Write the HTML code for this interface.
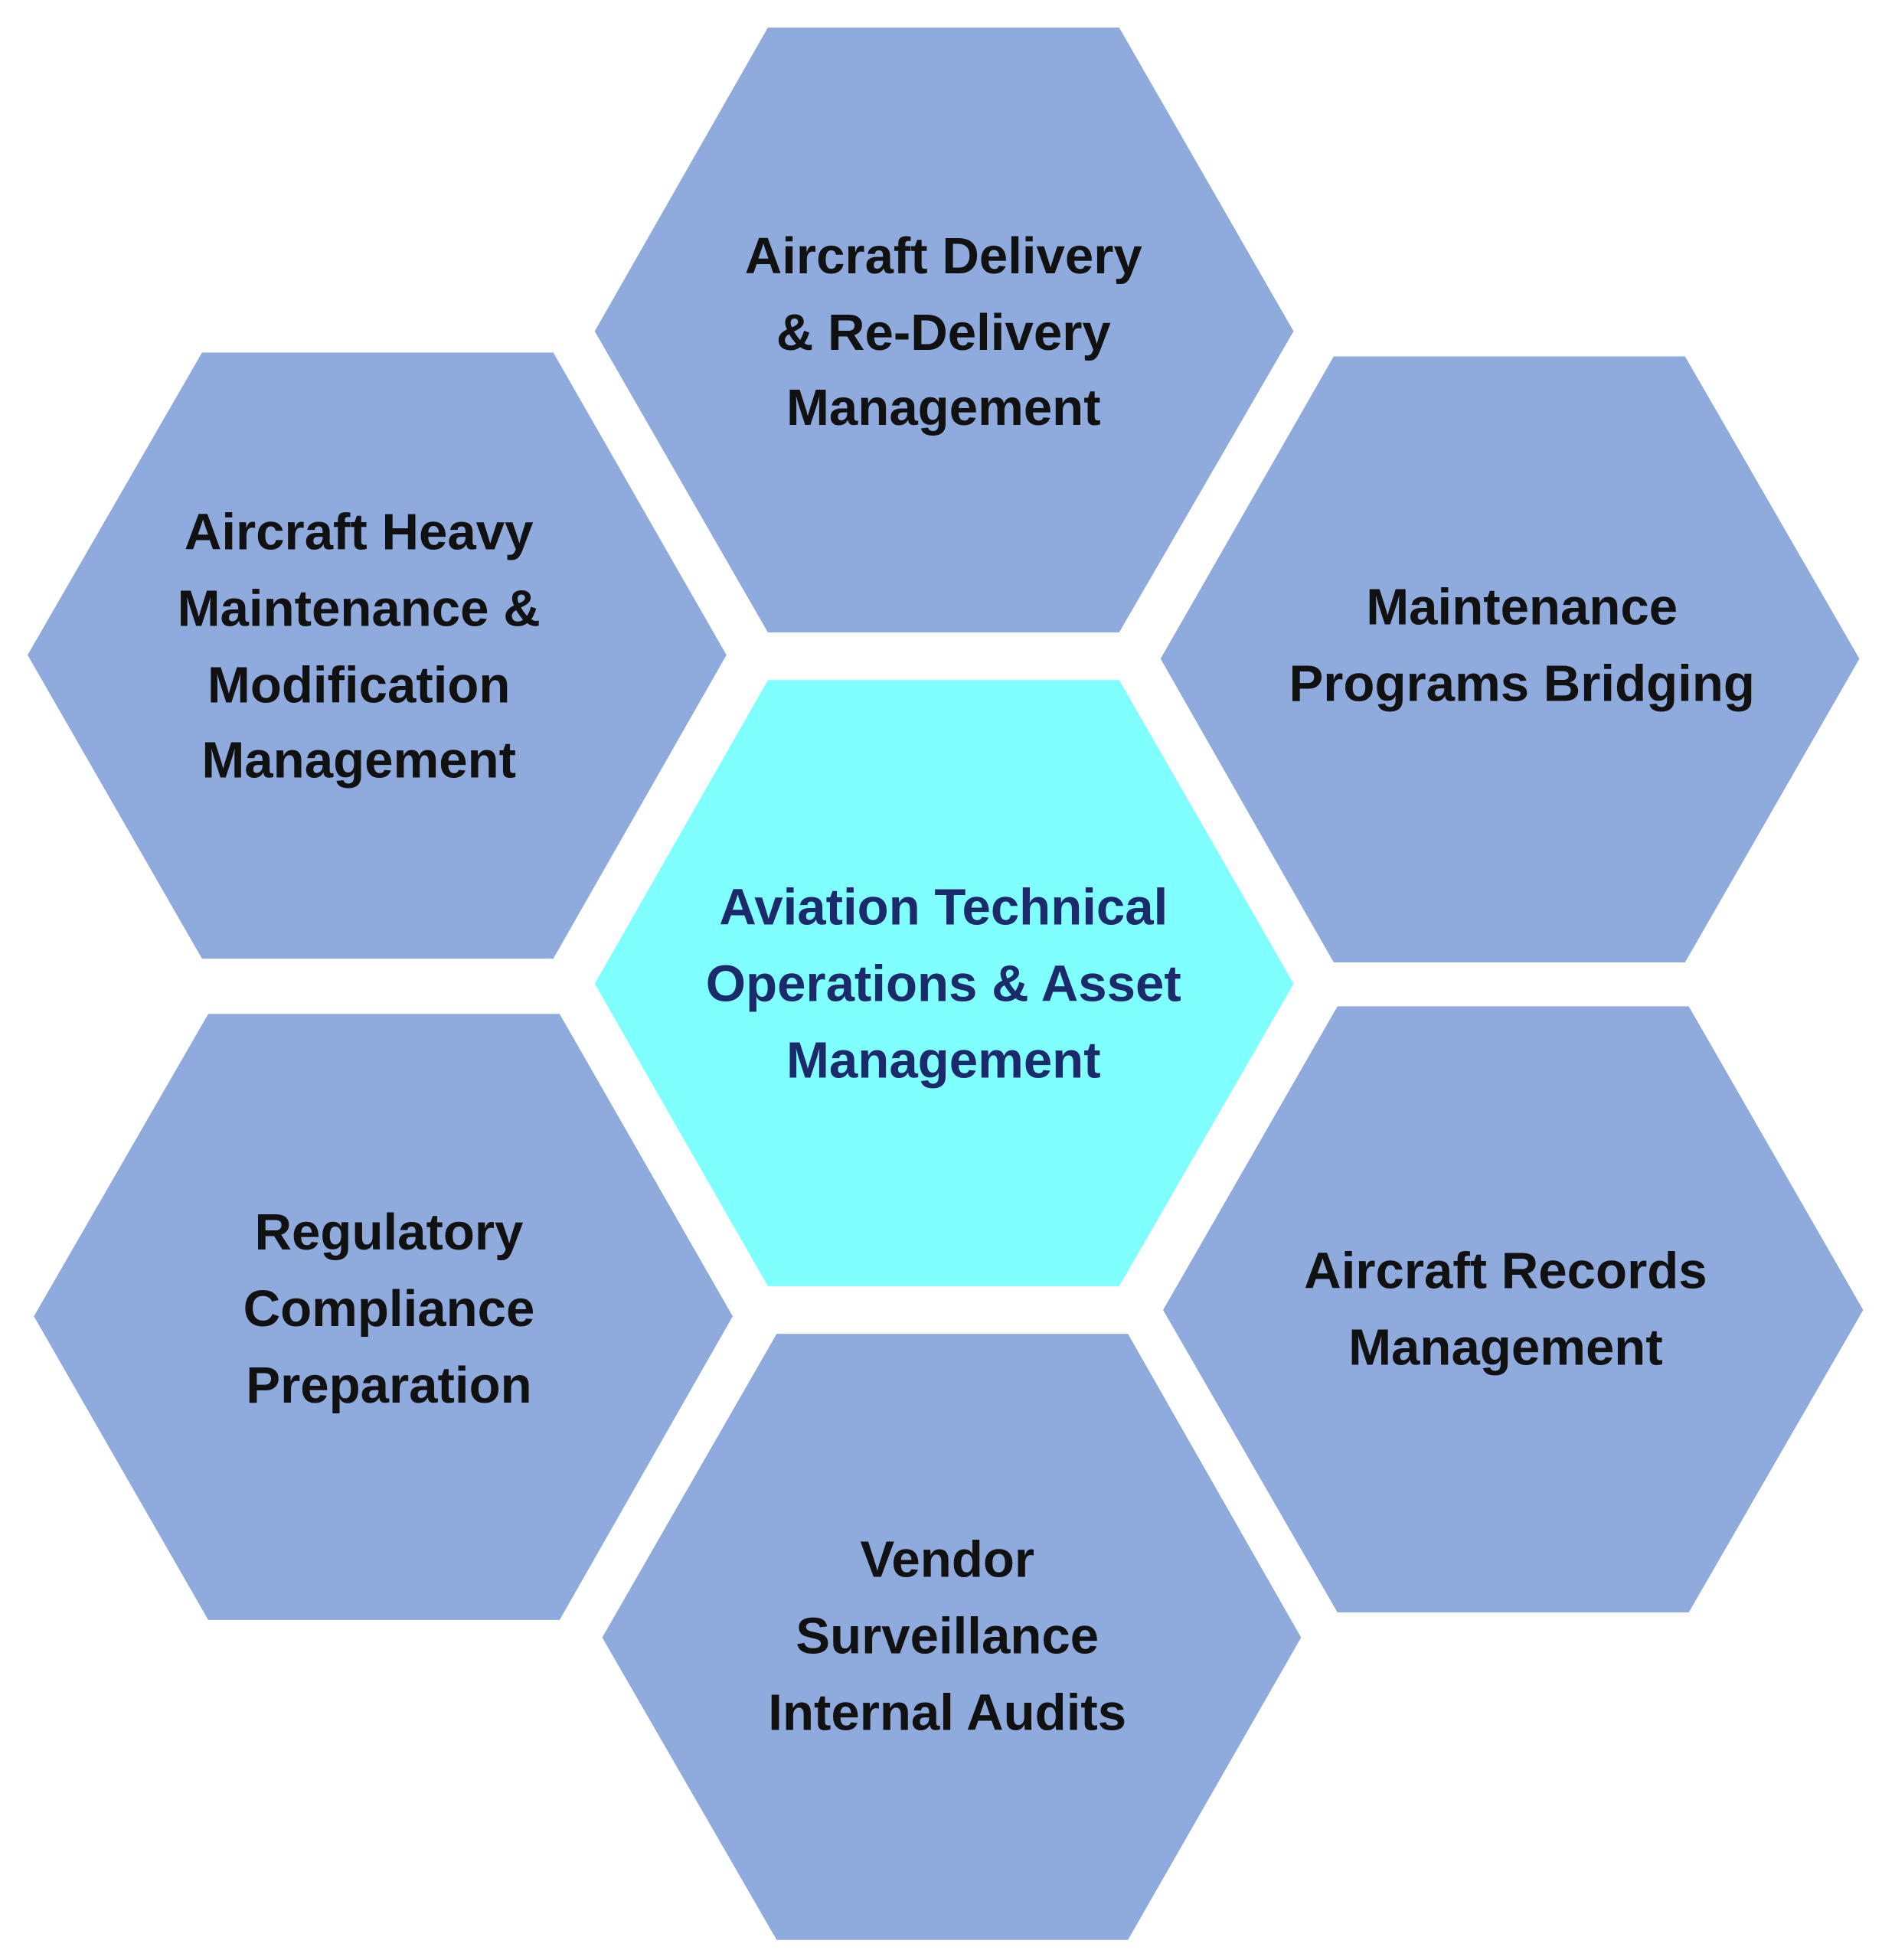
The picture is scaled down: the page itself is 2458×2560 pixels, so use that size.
<!DOCTYPE html>
<html><head><meta charset="utf-8"><style>
html,body{margin:0;padding:0;background:#fff;}
svg{display:block;}
text{font-family:"Liberation Sans",sans-serif;font-weight:700;font-size:41px;text-anchor:middle;dominant-baseline:central;fill:#111;}
</style></head><body>
<svg width="2458" height="2560" viewBox="0 0 1500 1562" preserveAspectRatio="none" xmlns="http://www.w3.org/2000/svg">
<rect width="1500" height="1562" fill="#fff"/>
<g fill="#8faadc">
<polygon points="612,22 892,22 1031,264 892,504 612,504 474,264"/>
<polygon points="161,281 441,281 579,522 441,764 161,764 22,522"/>
<polygon points="1063,284 1343,284 1482,525 1343,767 1063,767 925,525"/>
<polygon points="166,808 446,808 584,1049 446,1291 166,1291 27,1049"/>
<polygon points="1066,802 1346,802 1485,1044 1346,1285 1066,1285 927,1044"/>
<polygon points="619,1063 899,1063 1037,1305 899,1546 619,1546 480,1305"/>
</g>
<polygon points="612,542 892,542 1031,784 892,1025 612,1025 474,784" fill="#80ffff"/>
<text x="752" y="204">Aircraft Delivery</text>
<text x="752" y="265">&amp; Re-Delivery</text>
<text x="752" y="325">Management</text>
<text x="286" y="424">Aircraft Heavy</text>
<text x="286" y="485">Maintenance &amp;</text>
<text x="286" y="546">Modification</text>
<text x="286" y="606">Management</text>
<text x="1213" y="484">Maintenance</text>
<text x="1213" y="545">Programs Bridging</text>
<text x="752" y="723" style="fill:#1b2a6b">Aviation Technical</text>
<text x="752" y="784" style="fill:#1b2a6b">Operations &amp; Asset</text>
<text x="752" y="845" style="fill:#1b2a6b">Management</text>
<text x="310" y="982">Regulatory</text>
<text x="310" y="1043">Compliance</text>
<text x="310" y="1104">Preparation</text>
<text x="1200" y="1013">Aircraft Records</text>
<text x="1200" y="1074">Management</text>
<text x="755" y="1243">Vendor</text>
<text x="755" y="1304">Surveillance</text>
<text x="755" y="1365">Internal Audits</text>
</svg>
</body></html>
